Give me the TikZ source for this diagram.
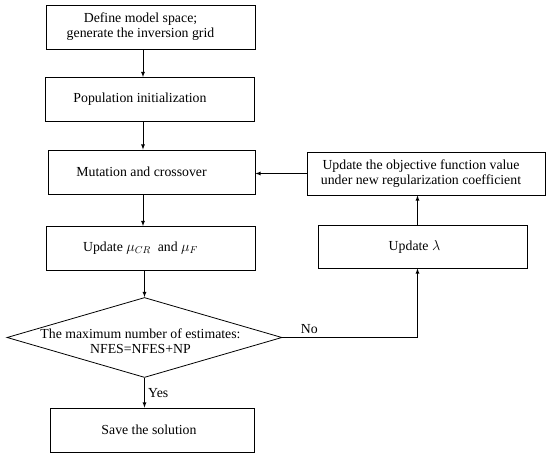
\documentclass[tikz,border=0pt]{standalone}
\usepackage{fontspec}
\setmainfont{Liberation Serif}
\usetikzlibrary{shapes.geometric}

\begin{document}
\begin{tikzpicture}[>=latex, x=1pt, y=-1pt, line width=0.8pt, font=\fontsize{13.8}{15}\selectfont,
    box/.style={draw, minimum width=209pt, minimum height=44pt, inner sep=0pt},
    txt/.style={align=center, xshift=-10pt},
    decision/.style={diamond, draw, aspect=3.4, minimum width=275pt,
        minimum height=80pt, inner sep=0pt}]
    \useasboundingbox (0,0) rectangle (550,457);
    \coordinate (axis) at (143,0);

    % Cột chính
    \node[box, label={[txt]center:{Define model space;\\generate the inversion grid}}] (def) at (150.5,27) {};
    \node[box, label={[txt]center:Population initialization}] (pop) at (150,99.5) {};
    \node[box, minimum width=207pt, label={[txt]center:Mutation and crossover}] (mut) at (151.5,172) {};
    \node[box, label={[txt]center:{Update $\mu_{CR}$ \ and $\mu_F$}}] (upd) at (150.5,248.5) {};
    \node[decision, label={[txt, xshift=6pt, yshift=-4pt]center:{The maximum number of estimates:\\NFES=NFES+NP}}] (dec) at (144.5,337.5) {};
    \node[box, minimum width=204pt, label={[txt, xshift=7pt]center:Save the solution}] (save) at (152,430) {};

    % Nhánh bên phải
    \node[box, minimum width=238pt, minimum height=43pt,
        label={[txt, xshift=5pt]center:{Update the objective function value\\under new regularization coefficient}}] (obj) at (426,173.5) {};
    \node[box, minimum height=43pt, label={[txt, xshift=2pt]center:Update $\lambda$}] (lam) at (422.5,246.5) {};

    % Các mũi tên
    \draw[->] (def.south -| axis) -- (pop.north -| axis);
    \draw[->] (pop.south -| axis) -- (mut.north -| axis);
    \draw[->] (mut.south -| axis) -- (upd.north -| axis);
    \draw[->] (upd.south -| dec.north) -- (dec.north);
    \draw[->] (dec.south) -- node[right] {Yes} (save.north -| dec.south);
    \draw[->] (dec.east) -- node[above, pos=0.2] {No} ([xshift=-5pt]lam.south |- dec.east) -- ([xshift=-5pt]lam.south);
    \draw[->] ([xshift=-5pt]lam.north) -- ([xshift=-5pt]lam.north |- obj.south);
    \draw[->] (obj.west) -- (obj.west -| mut.east);
\end{tikzpicture}
\end{document}
